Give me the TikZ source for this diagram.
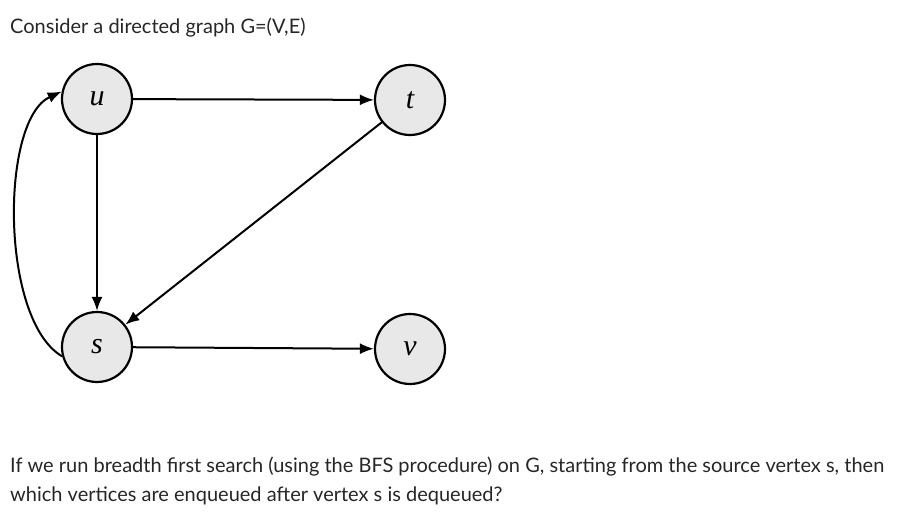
\documentclass[tikz,border=0pt]{standalone}
\usepackage{fontspec}
\setmainfont{Lato}
\newfontfamily\vfont{Liberation Serif}
\usetikzlibrary{arrows.meta}
\begin{document}
\begin{tikzpicture}[x=1pt,y=-1pt,
  vert/.style={circle,draw=black,line width=2.2pt,fill=gray!18,minimum size=70pt,inner sep=0pt,font=\vfont\fontsize{30}{30}\selectfont\itshape},
  edge/.style={line width=2pt,-{Latex[length=14pt,width=11pt]}},
  txt/.style={anchor=west,inner sep=0pt,font=\fontsize{20}{30}\selectfont,text=black!85}]
\useasboundingbox (0,0) rectangle (913,521);
\node[vert] (u) at (97,99) {u};
\node[vert] (t) at (410,100) {t};
\node[vert] (s) at (97,347) {s};
\node[vert] (v) at (410,349) {v};
\draw[edge] (u) -- (t);
\draw[edge] (u) -- (s);
\draw[edge] (t) -- (s);
\draw[edge] (s) -- (v);
\draw[edge] (s.195) .. controls (0,320) and (0,120) .. (u.168);
\node[txt] (title) at (10,28) {Consider a directed graph G=(V,E)};
\node[txt] (q1) at (10,467) {If we run breadth first search (using the BFS procedure) on G, starting from the source vertex s, then};
\node[txt] (q2) at (10,496) {which vertices are enqueued after vertex s is dequeued?};
\end{tikzpicture}
\end{document}
